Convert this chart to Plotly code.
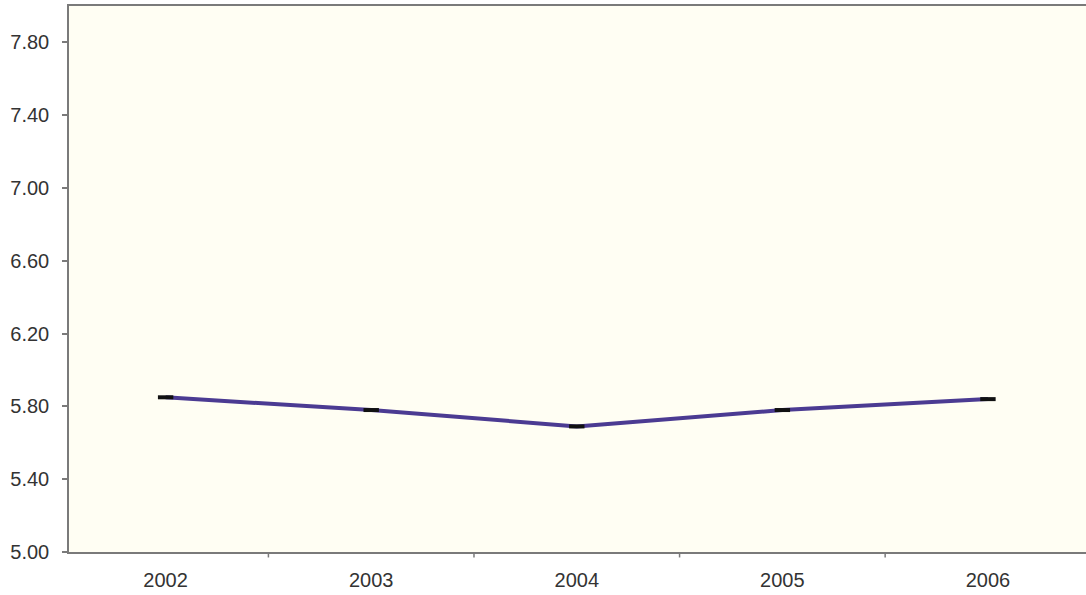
import plotly.graph_objects as go

years = ["2002", "2003", "2004", "2005", "2006"]
values = [5.85, 5.78, 5.69, 5.78, 5.84]
y_ticks = [5.00, 5.40, 5.80, 6.20, 6.60, 7.00, 7.40, 7.80]

fig = go.Figure()
fig.add_trace(go.Scatter(
    x=list(range(len(years))), y=values, mode="lines+markers",
    line=dict(color="#4B3B92", width=4),
    marker=dict(symbol="line-ew", size=11, line=dict(color="#111111", width=4)),
    showlegend=False, hoverinfo="skip",
))

fig.update_layout(
    width=1086, height=595,
    margin=dict(l=69, r=0, t=6, b=43),
    paper_bgcolor="white", plot_bgcolor="#FFFEF3",
    font=dict(family="Liberation Sans, Arial, sans-serif", size=20, color="#333333"),
)
fig.update_xaxes(
    range=[-0.47, 4.477], tickmode="array",
    tickvals=list(range(len(years))), ticktext=years,
    showgrid=False, zeroline=False,
    showline=True, linecolor="#7a7a7a", linewidth=1.5, mirror=True,
    ticks="", ticklabelstandoff=9,
)
# boundary ticks between categories
for b in [0.5, 1.5, 2.5, 3.5]:
    fig.add_shape(type="line", xref="x", yref="paper", x0=b, x1=b, y0=0, y1=-0.01,
                  line=dict(color="#7a7a7a", width=1.5))
fig.update_yaxes(
    range=[5.0, 8.0], tickmode="array", tickvals=y_ticks,
    ticktext=[f"{v:.2f}" for v in y_ticks],
    showgrid=False, zeroline=False,
    showline=True, linecolor="#7a7a7a", linewidth=1.5,
    ticks="outside", ticklen=5, tickcolor="#7a7a7a", tickwidth=1.5,
    ticklabelstandoff=9,
)
fig.write_html("out.html", config={"displayModeBar": False},
               post_script="document.body.style.margin='0';")
